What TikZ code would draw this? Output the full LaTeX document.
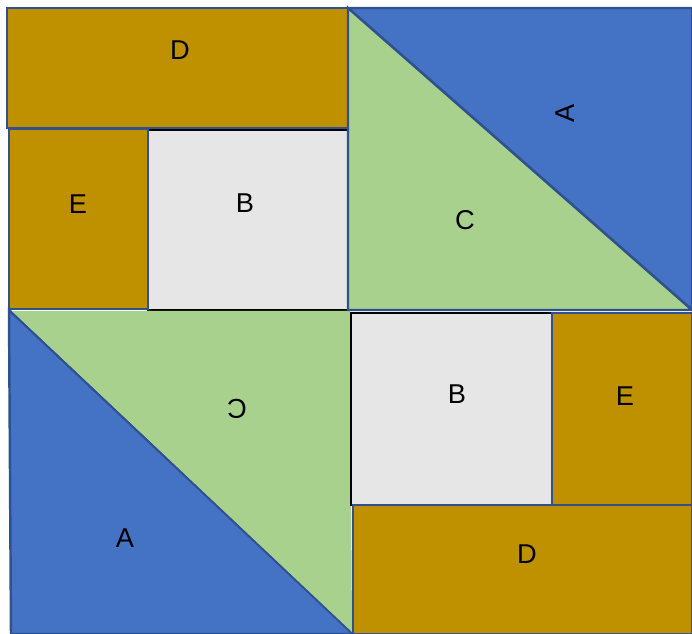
\documentclass[tikz,border=0pt]{standalone}
\usepackage{fontspec}
\setmainfont{Liberation Sans}
\usetikzlibrary{positioning,calc}
\definecolor{goldpc}{HTML}{BF9000}
\definecolor{bluepc}{HTML}{4472C4}
\definecolor{greenpc}{HTML}{A9D18E}
\definecolor{greypc}{HTML}{E7E6E6}
\definecolor{edgepc}{HTML}{2F528F}
\tikzset{every picture/.style={line width=1.4pt}}
\tikzset{
  piece/.style={draw=edgepc},
  lbl/.style={font=\fontsize{15.5}{18}\selectfont, inner sep=0pt}
}

\begin{document}
\begin{tikzpicture}[x=0.02cm, y=-0.02cm]
    \useasboundingbox (0,0) rectangle (692,634);

    % 左上块: D, E, B
    \draw[black, fill=greypc] (148,130) rectangle (348,310);
    \draw[piece, fill=goldpc] (7,8) rectangle (348,128);
    \draw[piece, fill=goldpc] (9,129) rectangle (148,309);
    \node[lbl] (d1) at (180,50) {D};
    \node[lbl] (e1) at (78,204) {E};
    \node[lbl] (b1) at (245,203) {B};

    % 左下块: 三角形 A 和 C
    \draw[piece, fill=bluepc] (9,310) -- (353,634) -- (11,634) -- cycle;
    \fill[greenpc] (12,311) -- (350,311) -- (352,632) -- cycle;
    \node[lbl] (a2) at (125,538) {A};
    \node[lbl, rotate=180] (c2) at (237,409) {C};

    % 右下块: B, E, D
    \draw[black, fill=greypc] (351,313) rectangle (552,505);
    \draw[piece, fill=goldpc] (552,313) rectangle (692,505);
    \draw[piece, fill=goldpc] (353,505) rectangle (692,634);
    \node[lbl] (b2) at (457,394) {B};
    \node[lbl] (e2) at (625,396) {E};
    \node[lbl] (d2) at (527,554) {D};

    % 右上块: 三角形 A 和 C
    \draw[piece, fill=bluepc] (348,8) -- (692,8) -- (692,310) -- cycle;
    \draw[piece, fill=greenpc] (348,8) -- (692,310) -- (348,310) -- cycle;
    \node[lbl, rotate=90] (a1) at (565,113) {A};
    \node[lbl] (c1) at (465,220) {C};
\end{tikzpicture}
\end{document}
